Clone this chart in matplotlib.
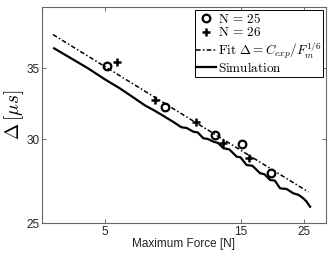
import matplotlib
matplotlib.use("Agg")
import matplotlib.pyplot as plt
from matplotlib.ticker import FixedLocator, NullLocator, FixedFormatter

plt.rcParams['mathtext.fontset'] = 'cm'
plt.rcParams['font.family'] = ['Liberation Sans', 'DejaVu Sans']

# Data
force_n25 = [5.10, 8.14, 12.2, 15.23, 19.24]
delta_n25 = [35.18, 32.18, 30.28, 29.69, 27.89]

force_n26 = [5.51, 7.50, 10.43, 13.05, 16.08]
delta_n26 = [35.51, 32.67, 31.16, 29.74, 28.78]

fit_force = [3.28, 26.0]
fit_delta = [37.67, 26.75]

sim_force = [3.31, 4.36, 4.99, 5.63, 6.36, 6.90, 7.48, 8.11, 8.68, 9.29, 9.7,
             10.24, 10.6, 11.10, 11.5, 12.04, 12.5, 13.05, 13.7, 14.55, 15.0,
             15.76, 16.5, 17.58, 18.2, 19.07, 19.8, 20.67, 21.8, 23.0, 24.0,
             24.96, 25.6, 26.37]
sim_delta = [36.56, 35.0, 34.18, 33.52, 32.79, 32.3, 31.92, 31.51, 31.16, 30.79, 30.74,
             30.49, 30.45, 30.06, 30.02, 29.84, 29.76, 29.42, 29.34, 28.88, 28.84,
             28.36, 28.32, 27.86, 27.80, 27.45, 27.42, 26.96, 26.92, 26.67, 26.58,
             26.38, 26.20, 25.90]

x_ticks = [5, 15, 25]
y_ticks = [25, 30, 35]

fig = plt.figure(figsize=(3.32, 2.54), dpi=100)
ax = fig.add_axes([42/332, 1 - 223/254, (326-42)/332, (223-7)/254])

ax.set_xscale('log')
ax.set_yscale('log')

ax.plot(sim_force, sim_delta, '-', color='black', lw=1.6,
        label=r'$\mathrm{Simulation}$', zorder=2)
ax.plot(fit_force, fit_delta, color='black', lw=1.1, dashes=(3, 1.5, 1, 1.5),
        label=r'$\mathrm{Fit}\ \Delta = C_{exp}/F_m^{1/6}$', zorder=3)
ax.plot(force_n25, delta_n25, 'o', mfc='none', mec='black', mew=1.6, ms=5.5,
        label=r'$\mathrm{N}\,=\,25$', zorder=4)
ax.plot(force_n26, delta_n26, '+', color='black', mew=1.8, ms=5.5,
        label=r'$\mathrm{N}\,=\,26$', zorder=4)

ax.set_xlim(3, 30)
ax.set_ylim(25, 40)

ax.xaxis.set_major_locator(FixedLocator(x_ticks))
ax.xaxis.set_major_formatter(FixedFormatter([str(v) for v in x_ticks]))
ax.xaxis.set_minor_locator(NullLocator())
ax.yaxis.set_major_locator(FixedLocator(y_ticks))
ax.yaxis.set_major_formatter(FixedFormatter([str(v) for v in y_ticks]))
ax.yaxis.set_minor_locator(NullLocator())

ax.tick_params(direction='in', top=True, right=True, length=3, width=0.6,
               color='#555555', labelsize=8.5, labelcolor='#222222', pad=2)
for s in ax.spines.values():
    s.set_color('#666666')
    s.set_linewidth(0.8)

ax.set_xlabel('Maximum Force [N]', fontsize=8.5, color='#222222', labelpad=0)
ax.set_ylabel(r'$\Delta\,[\mu s]$', fontsize=14, labelpad=0)

handles, labels = ax.get_legend_handles_labels()
order = [2, 3, 1, 0]
leg = ax.legend([handles[i] for i in order], [labels[i] for i in order],
                loc='upper right', fontsize=9.5, frameon=True, fancybox=False,
                edgecolor='black', framealpha=1, handlelength=1.5,
                handletextpad=0.1, borderpad=0.12, labelspacing=0.03,
                borderaxespad=0.25)
leg.get_frame().set_linewidth(0.7)

fig.savefig('out.png', dpi=100)
